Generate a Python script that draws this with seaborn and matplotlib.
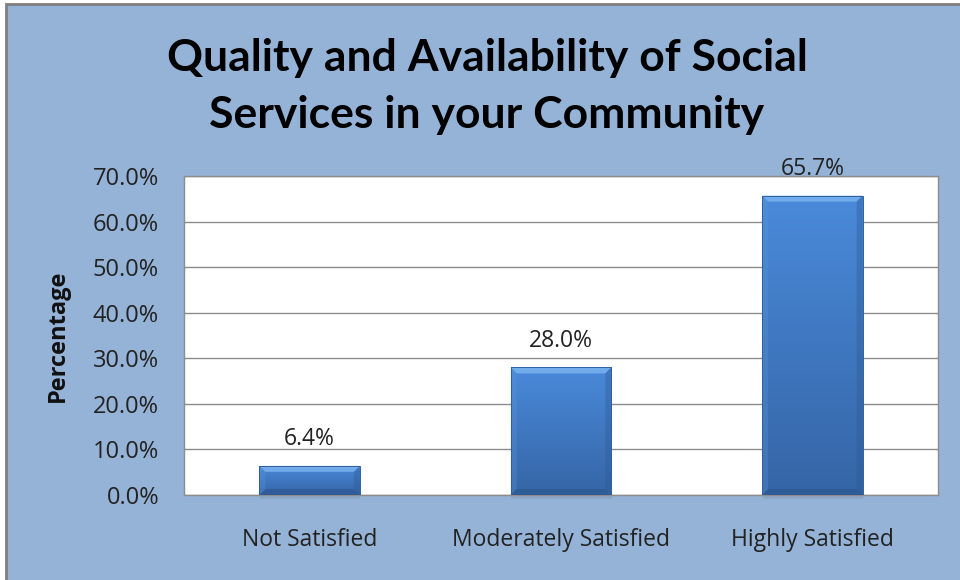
import numpy as np
import matplotlib
matplotlib.use("Agg")
import matplotlib.pyplot as plt
from matplotlib.patches import Rectangle, Polygon
from matplotlib.ticker import FuncFormatter
from matplotlib.colors import LinearSegmentedColormap
import seaborn as sns

# Survey results
categories = ["Not Satisfied", "Moderately Satisfied", "Highly Satisfied"]
percentages = [6.4, 28.0, 65.7]
y_ticks = [0, 10, 20, 30, 40, 50, 60, 70]
title_lines = ["Quality and Availability of Social", "Services in your Community"]
y_label = "Percentage"

sns.set_theme(style="white")
plt.rcParams["font.family"] = ["Open Sans", "DejaVu Sans"]

BG = "#95b3d7"
fig = plt.figure(figsize=(9.6, 5.8), dpi=100, facecolor="white")

# Chart frame
frame = Rectangle((6 / 960, -0.05), 1.2, 1 - 4 / 580 + 0.05, transform=fig.transFigure,
                  facecolor=BG, edgecolor="#7f7f7f", linewidth=2, zorder=-10)
fig.patches.append(frame)

ax = fig.add_axes([184 / 960, 1 - 495 / 580, (938 - 184) / 960, (495 - 176) / 580])
ax.set_facecolor("white")

sns.barplot(x=categories, y=percentages, color="#3f77c0", width=0.4,
            saturation=1, ax=ax, zorder=3, linewidth=0)

ax.set_ylim(0, 70)
ax.set_xlim(-0.5, len(categories) - 0.5)
ax.set_yticks(y_ticks)
ax.yaxis.set_major_formatter(FuncFormatter(lambda v, _: f"{v:.1f}%"))
ax.grid(axis="y", color="#8c8c8c", linewidth=1.0, zorder=0)
ax.set_axisbelow(True)
for s in ax.spines.values():
    s.set_color("#8c8c8c")
    s.set_linewidth(1.0)

ax.tick_params(axis="y", labelsize=17, pad=18, length=0, colors="#222222")
ax.tick_params(axis="x", labelsize=16.5, pad=24, length=0, colors="#222222")
ax.set_xlabel("")
ax.set_ylabel(y_label, fontsize=17, fontweight="bold", color="#111111")
ax.yaxis.set_label_coords(-0.151, 0.5)

# Bevelled gradient fill for each bar
fig.canvas.draw()
x0d, x1d = ax.get_xlim()
y0d, y1d = ax.get_ylim()
bb = ax.get_window_extent()
px_x = (x1d - x0d) / bb.width
px_y = (y1d - y0d) / bb.height
bev = 6
grad_cmap = LinearSegmentedColormap.from_list("barfill", ["#4a8ada", "#3565a6"])
grad = np.linspace(0, 1, 256).reshape(-1, 1)

for patch, val in zip(list(ax.patches), percentages):
    bx, by = patch.get_x(), patch.get_y()
    bw, bh = patch.get_width(), patch.get_height()
    bx1, by1 = bx + bw, by + bh
    ex, ey = bev * px_x, bev * px_y
    ey = min(ey, bh / 2.5)
    patch.set_facecolor("none")
    # soft shadow under the bar
    ax.add_patch(Rectangle((bx + 0.5 * px_x, by - 4 * px_y), bw, 4 * px_y,
                           facecolor="#7a8aa0", alpha=0.3, linewidth=0,
                           zorder=2.5, clip_on=False))
    img = ax.imshow(grad, cmap=grad_cmap, aspect="auto",
                    extent=(bx, bx1, by, by1), origin="upper", zorder=3,
                    interpolation="bilinear")
    img.set_clip_path(patch)
    # bevel faces
    faces = [
        ([(bx, by1), (bx1, by1), (bx1 - ex, by1 - ey), (bx + ex, by1 - ey)], "#7db4f0", 0.8),
        ([(bx, by), (bx1, by), (bx1 - ex, by + ey), (bx + ex, by + ey)], "#2a5288", 0.5),
        ([(bx, by), (bx, by1), (bx + ex, by1 - ey), (bx + ex, by + ey)], "#5d97da", 0.3),
        ([(bx1, by), (bx1, by1), (bx1 - ex, by1 - ey), (bx1 - ex, by + ey)], "#2c5890", 0.35),
    ]
    for pts, col, a in faces:
        ax.add_patch(Polygon(pts, closed=True, facecolor=col, alpha=a,
                             linewidth=0, zorder=3.2))
    ax.add_patch(Rectangle((bx, by), bw, bh, facecolor="none",
                           edgecolor="#30609e", linewidth=0.7, zorder=3.3))
    ax.annotate(f"{val:.1f}%", (bx + bw / 2, by1), xytext=(0, 15),
                textcoords="offset points", ha="center", va="baseline",
                fontsize=16.5, color="#222222", zorder=5, annotation_clip=False)

ax.set_xlim(x0d, x1d)
ax.set_ylim(y0d, y1d)

fig.text(487 / 960, 1 - 58 / 580, title_lines[0], ha="center", va="center",
         fontsize=32, fontweight="bold", family=["Lato", "DejaVu Sans"], color="#000000")
fig.text(487 / 960, 1 - 115 / 580, title_lines[1], ha="center", va="center",
         fontsize=32, fontweight="bold", family=["Lato", "DejaVu Sans"], color="#000000")

fig.savefig("out.png", dpi=100, facecolor=fig.get_facecolor())
